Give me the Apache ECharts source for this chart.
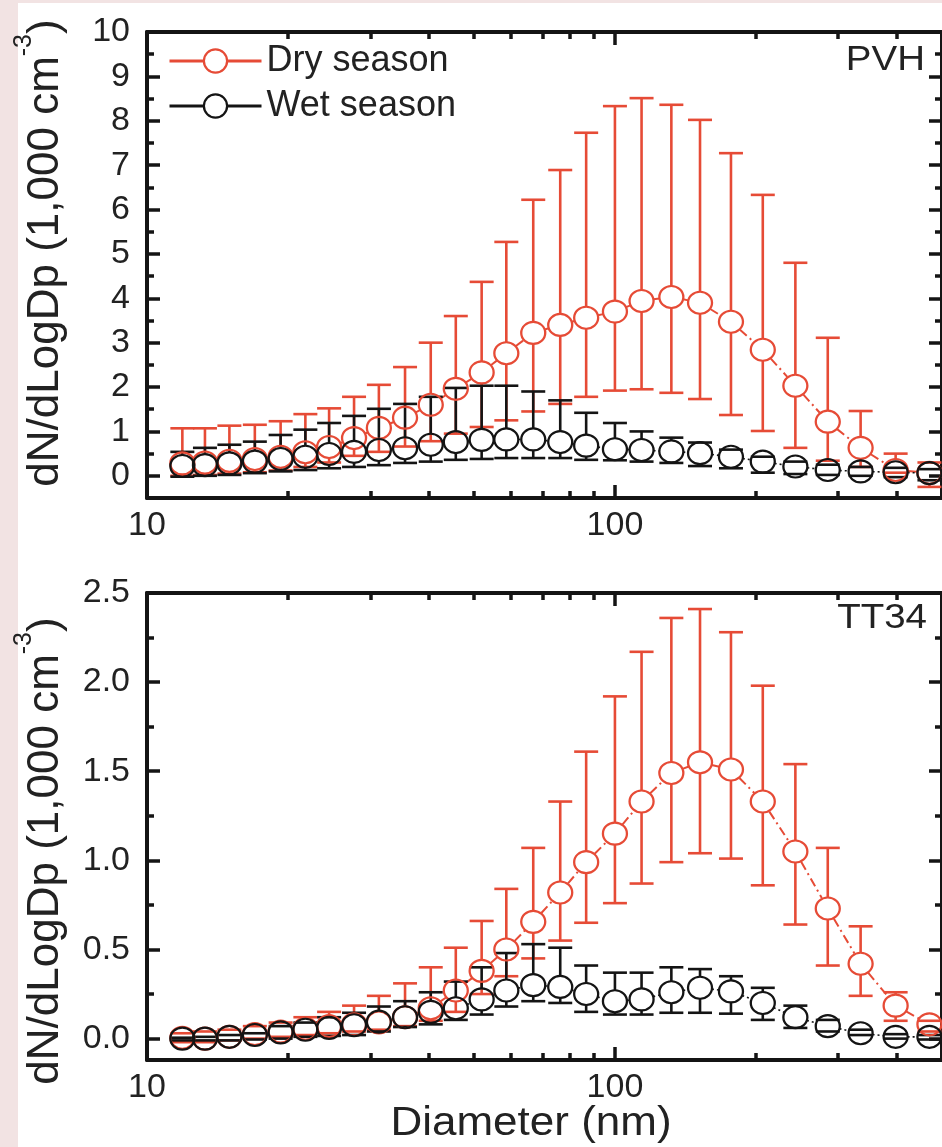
<!DOCTYPE html>
<html><head><meta charset="utf-8">
<script src="https://cdn.jsdelivr.net/npm/echarts@6/dist/echarts.min.js"></script>
<style>html,body{margin:0;padding:0;background:#fff}#c{width:942px;height:1147px}</style>
</head><body><div id="c"></div>
<script>
// ---------------- data ----------------
const diameters = [11.9, 13.3, 15.0, 17.0, 19.3, 21.8, 24.5, 27.7, 31.3, 35.6, 40.4, 45.7, 51.9, 58.6,
  66.9, 76.4, 86.8, 100, 114, 132, 152, 177, 207, 243, 285, 335, 398, 470];

const pvhDryMean = [0.28, 0.30, 0.34, 0.38, 0.43, 0.53, 0.65, 0.85, 1.08, 1.31, 1.60, 1.96, 2.33, 2.76,
  3.22, 3.40, 3.56, 3.70, 3.94, 4.03, 3.90, 3.47, 2.84, 2.03, 1.22, 0.63, 0.13, 0.07];
const pvhDryLow = [0.00, 0.02, 0.05, 0.08, 0.12, 0.20, 0.30, 0.45, 0.54, 0.66, 0.78, 0.95, 1.10, 1.25,
  1.45, 1.62, 1.78, 1.92, 1.95, 1.87, 1.73, 1.37, 1.01, 0.63, 0.34, 0.20, 0.07, -0.25];
const pvhDryHigh = [1.07, 1.07, 1.13, 1.15, 1.23, 1.39, 1.52, 1.78, 2.05, 2.45, 3.00, 3.60, 4.37, 5.27,
  6.22, 6.89, 7.73, 8.33, 8.51, 8.36, 8.02, 7.27, 6.33, 4.80, 3.11, 1.46, 0.50, 0.30];
const pvhWetMean = [0.22, 0.24, 0.28, 0.32, 0.38, 0.43, 0.49, 0.54, 0.58, 0.62, 0.70, 0.76, 0.81, 0.82,
  0.82, 0.76, 0.68, 0.60, 0.58, 0.55, 0.51, 0.43, 0.32, 0.21, 0.13, 0.10, 0.08, 0.06];
const pvhWetLow = [-0.02, 0.00, 0.02, 0.06, 0.10, 0.13, 0.17, 0.20, 0.24, 0.29, 0.32, 0.36, 0.38, 0.40,
  0.40, 0.40, 0.36, 0.35, 0.32, 0.29, 0.22, 0.17, 0.07, 0.04, 0.02, 0.00, -0.03, -0.10];
const pvhWetHigh = [0.54, 0.63, 0.70, 0.77, 0.92, 1.04, 1.19, 1.35, 1.51, 1.62, 1.78, 1.98, 2.03, 2.03,
  1.90, 1.70, 1.42, 1.19, 1.00, 0.86, 0.75, 0.59, 0.43, 0.32, 0.25, 0.20, 0.18, 0.15];

const ttDryMean = [0.005, 0.00, 0.01, 0.025, 0.04, 0.055, 0.07, 0.08, 0.09, 0.12, 0.17, 0.27, 0.38, 0.50,
  0.655, 0.82, 0.99, 1.15, 1.33, 1.49, 1.55, 1.51, 1.33, 1.05, 0.73, 0.42, 0.185, 0.08];
const ttDryLow = [-0.02, -0.02, -0.01, 0.00, 0.01, 0.02, 0.03, 0.04, 0.05, 0.07, 0.10, 0.15, 0.25, 0.35,
  0.45, 0.55, 0.65, 0.76, 0.87, 0.99, 1.04, 1.01, 0.86, 0.64, 0.41, 0.24, 0.10, 0.04];
const ttDryHigh = [0.03, 0.04, 0.05, 0.07, 0.09, 0.12, 0.15, 0.185, 0.24, 0.31, 0.40, 0.51, 0.66, 0.84,
  1.07, 1.33, 1.61, 1.92, 2.17, 2.36, 2.41, 2.28, 1.98, 1.54, 1.07, 0.63, 0.26, 0.10];
const ttWetMean = [0.00, 0.00, 0.01, 0.02, 0.035, 0.05, 0.06, 0.075, 0.095, 0.12, 0.15, 0.17, 0.22, 0.27,
  0.30, 0.29, 0.25, 0.21, 0.22, 0.26, 0.285, 0.265, 0.20, 0.12, 0.07, 0.03, 0.01, 0.01];
const ttWetLow = [-0.01, -0.01, -0.01, -0.005, 0.00, 0.01, 0.015, 0.02, 0.04, 0.065, 0.08, 0.105, 0.135, 0.18,
  0.21, 0.20, 0.15, 0.135, 0.135, 0.145, 0.145, 0.14, 0.105, 0.06, 0.04, 0.02, 0.00, -0.005];
const ttWetHigh = [0.005, 0.01, 0.02, 0.03, 0.07, 0.09, 0.12, 0.145, 0.18, 0.21, 0.26, 0.32, 0.40, 0.48,
  0.53, 0.51, 0.41, 0.37, 0.37, 0.40, 0.39, 0.35, 0.285, 0.185, 0.105, 0.05, 0.025, 0.02];

const xMajorTicks = [10, 100];
const xMinorTicks = [20, 30, 40, 50, 60, 70, 80, 90, 200, 300, 400];
const yTopMajor = [0, 1, 2, 3, 4, 5, 6, 7, 8, 9, 10];
const yTopMinor = [0.5, 1.5, 2.5, 3.5, 4.5, 5.5, 6.5, 7.5, 8.5, 9.5];
const yBotMajor = [0, 0.5, 1.0, 1.5, 2.0, 2.5];
const yBotMinor = [0.25, 0.75, 1.25, 1.75, 2.25];
const panelTags = ['PVH', 'TT34'];
const seriesNames = ['Dry season', 'Wet season'];
const xTitle = 'Diameter (nm)';

// ---------------- styles ----------------
const RED = '#e64b36', INK = '#141414', TXT = '#222';
const FONT = '"Liberation Sans", Arial, sans-serif';
const grids = [
  { left: 147, top: 32, width: 798, height: 466, ymin: -0.5, ymax: 10, major: yTopMajor, minor: yTopMinor, fmt: v => String(v) },
  { left: 147, top: 593, width: 798, height: 467, ymin: -0.12, ymax: 2.5, major: yBotMajor, minor: yBotMinor, fmt: v => v.toFixed(1) }
];
const panels = [
  { dry: [pvhDryMean, pvhDryLow, pvhDryHigh], wet: [pvhWetMean, pvhWetLow, pvhWetHigh] },
  { dry: [ttDryMean, ttDryLow, ttDryHigh], wet: [ttWetMean, ttWetLow, ttWetHigh] }
];

const lineW = 4;
const tickStyle = { color: INK, width: 3.5 };
const shownLine = { show: true, onZero: false, lineStyle: { color: INK, width: lineW } };
const hiddenLine = { show: false, onZero: false };
function xAxesFor(g) {
  const base = { type: 'log', logBase: 10, min: 10, max: 500, gridIndex: g, splitLine: { show: false } };
  const majTick = { show: true, inside: true, length: 13, lineStyle: tickStyle, customValues: xMajorTicks };
  const minTick = { show: true, inside: true, length: 7, lineStyle: tickStyle, customValues: xMinorTicks };
  return [
    Object.assign({}, base, { position: 'bottom', axisLine: shownLine, axisTick: majTick,
      axisLabel: { show: true, customValues: xMajorTicks, margin: 11, fontSize: 34, color: TXT, fontFamily: FONT } }),
    Object.assign({}, base, { position: 'bottom', axisLine: hiddenLine, axisTick: minTick, axisLabel: { show: false } }),
    Object.assign({}, base, { position: 'top', axisLine: shownLine, axisTick: majTick, axisLabel: { show: false } }),
    Object.assign({}, base, { position: 'top', axisLine: hiddenLine, axisTick: minTick, axisLabel: { show: false } })
  ];
}
function yAxesFor(g) {
  const G = grids[g];
  const base = { type: 'value', min: G.ymin, max: G.ymax, gridIndex: g, splitLine: { show: false } };
  const majTick = { show: true, inside: true, length: 13, lineStyle: tickStyle, customValues: G.major };
  const minTick = { show: true, inside: true, length: 7, lineStyle: tickStyle, customValues: G.minor };
  return [
    Object.assign({}, base, { position: 'left', axisLine: shownLine, axisTick: majTick,
      axisLabel: { show: true, customValues: G.major, formatter: G.fmt, margin: 17, fontSize: 34, color: TXT, fontFamily: FONT } }),
    Object.assign({}, base, { position: 'left', axisLine: hiddenLine, axisTick: minTick, axisLabel: { show: false } }),
    Object.assign({}, base, { position: 'right', axisLine: shownLine, axisTick: majTick, axisLabel: { show: false } }),
    Object.assign({}, base, { position: 'right', axisLine: hiddenLine, axisTick: minTick, axisLabel: { show: false } })
  ];
}

const R = 12; // marker half-size (px) used for gaps
function markerSeries(g, name, color, mean) {
  return {
    type: 'line', name: name, xAxisIndex: g * 4, yAxisIndex: g * 4, z: 5, silent: true,
    data: diameters.map((d, i) => [d, mean[i]]),
    symbol: 'circle', symbolSize: [24, 22],
    itemStyle: { color: 'rgba(255,255,255,0)', borderColor: color, borderWidth: 2.2 },
    lineStyle: { width: 0, color: color }
  };
}
function segmentSeries(g, name, color, mean, dash, width) {
  return {
    type: 'custom', name: name, xAxisIndex: g * 4, yAxisIndex: g * 4, z: 2, silent: true,
    encode: { x: [0, 2], y: [1, 3] },
    data: diameters.slice(0, -1).map((d, i) => [d, mean[i], diameters[i + 1], mean[i + 1]]),
    renderItem: function (params, api) {
      const p1 = api.coord([api.value(0), api.value(1)]);
      const p2 = api.coord([api.value(2), api.value(3)]);
      const dx = p2[0] - p1[0], dy = p2[1] - p1[1];
      const L = Math.sqrt(dx * dx + dy * dy);
      if (L <= 2 * R + 1) return null;
      const ux = dx / L, uy = dy / L;
      return { type: 'line', shape: { x1: p1[0] + ux * R, y1: p1[1] + uy * R, x2: p2[0] - ux * R, y2: p2[1] - uy * R },
        style: { stroke: color, lineWidth: width, lineDash: dash } };
    }
  };
}
function errorSeries(g, name, color, mean, low, high) {
  return {
    type: 'custom', name: name, xAxisIndex: g * 4, yAxisIndex: g * 4, z: 4, silent: true,
    encode: { x: 0, y: [1, 2] },
    data: diameters.map((d, i) => [d, low[i], high[i], mean[i]]),
    renderItem: function (params, api) {
      const x = api.value(0);
      const pLo = api.coord([x, api.value(1)]);
      const pHi = api.coord([x, api.value(2)]);
      const pM = api.coord([x, api.value(3)]);
      const hw = 12, st = { stroke: color, lineWidth: 2.6 };
      const ch = [];
      const rY = 11;
      if (pHi[1] < pM[1] - rY) ch.push({ type: 'line', shape: { x1: pM[0], y1: pM[1] - rY, x2: pHi[0], y2: pHi[1] }, style: st });
      if (pLo[1] > pM[1] + rY) ch.push({ type: 'line', shape: { x1: pM[0], y1: pM[1] + rY, x2: pLo[0], y2: pLo[1] }, style: st });
      ch.push({ type: 'line', shape: { x1: pHi[0] - hw, y1: pHi[1], x2: pHi[0] + hw, y2: pHi[1] }, style: st });
      ch.push({ type: 'line', shape: { x1: pLo[0] - hw, y1: pLo[1], x2: pLo[0] + hw, y2: pLo[1] }, style: st });
      return { type: 'group', children: ch };
    }
  };
}

const xAxis = [], yAxis = [], series = [];
for (let g = 0; g < 2; g++) {
  xAxis.push(...xAxesFor(g));
  yAxis.push(...yAxesFor(g));
}
for (let g = 0; g < 2; g++) {
  const P = panels[g];
  series.push(markerSeries(g, seriesNames[0], RED, P.dry[0]));
  series.push(markerSeries(g, seriesNames[1], INK, P.wet[0]));
}
for (let g = 0; g < 2; g++) {
  const P = panels[g];
  series.push(segmentSeries(g, 'dry-line-' + g, RED, P.dry[0], [9, 4, 2, 4], 2));
  series.push(segmentSeries(g, 'wet-line-' + g, INK, P.wet[0], [2, 3], 1.6));
  series.push(errorSeries(g, 'dry-err-' + g, RED, P.dry[0], P.dry[1], P.dry[2]));
  series.push(errorSeries(g, 'wet-err-' + g, INK, P.wet[0], P.wet[1], P.wet[2]));
}

const yName = '{a|dN/dLogDp (1,000 cm}{s|-3}{a|)}';
const yRich = {
  a: { fontSize: 44, lineHeight: 56, verticalAlign: 'bottom', fontFamily: FONT, fill: TXT, color: TXT },
  s: { fontSize: 25, lineHeight: 25, verticalAlign: 'top', fontFamily: FONT, fill: TXT, color: TXT }
};

const option = {
  backgroundColor: '#fff',
  animation: false,
  grid: grids.map(G => ({ left: G.left, top: G.top, width: G.width, height: G.height })),
  xAxis: xAxis,
  yAxis: yAxis,
  legend: {
    data: seriesNames, orient: 'vertical', left: 163, top: 38, itemWidth: 92, itemHeight: 29, itemGap: 9,
    selectedMode: false,
    textStyle: { fontSize: 36, color: TXT, fontFamily: FONT, padding: [0, 0, 0, 0] },
    itemStyle: { color: '#fff', borderWidth: 2.2 },
    lineStyle: { width: 3, type: 'solid' }
  },
  series: series,
  graphic: [
    { type: 'rect', silent: true, z: -10, shape: { x: 0, y: 0, width: 18, height: 1147 }, style: { fill: '#f2e3e3' } },
    { type: 'rect', silent: true, z: -10, shape: { x: 0, y: 0, width: 942, height: 3 }, style: { fill: '#f2e3e3' } },
    { type: 'text', x: 40, y: 253, rotation: Math.PI / 2, silent: true,
      style: { text: yName, rich: yRich, align: 'center', verticalAlign: 'middle' } },
    { type: 'text', x: 40, y: 851, rotation: Math.PI / 2, silent: true,
      style: { text: yName, rich: yRich, align: 'center', verticalAlign: 'middle' } },
    { type: 'text', x: 531, y: 1124, scaleX: 1.1, silent: true,
      style: { text: xTitle, fontSize: 40, fontFamily: FONT, fill: TXT, align: 'center', verticalAlign: 'middle' } },
    { type: 'text', x: 925, y: 60, scaleX: 1.1, silent: true,
      style: { text: panelTags[0], fontSize: 35, fontFamily: FONT, fill: TXT, align: 'right', verticalAlign: 'middle' } },
    { type: 'text', x: 927, y: 618, scaleX: 1.1, silent: true,
      style: { text: panelTags[1], fontSize: 35, fontFamily: FONT, fill: TXT, align: 'right', verticalAlign: 'middle' } }
  ]
};
const chart = echarts.init(document.getElementById('c'), null, { renderer: 'canvas' });
chart.setOption(option);
</script></body></html>
